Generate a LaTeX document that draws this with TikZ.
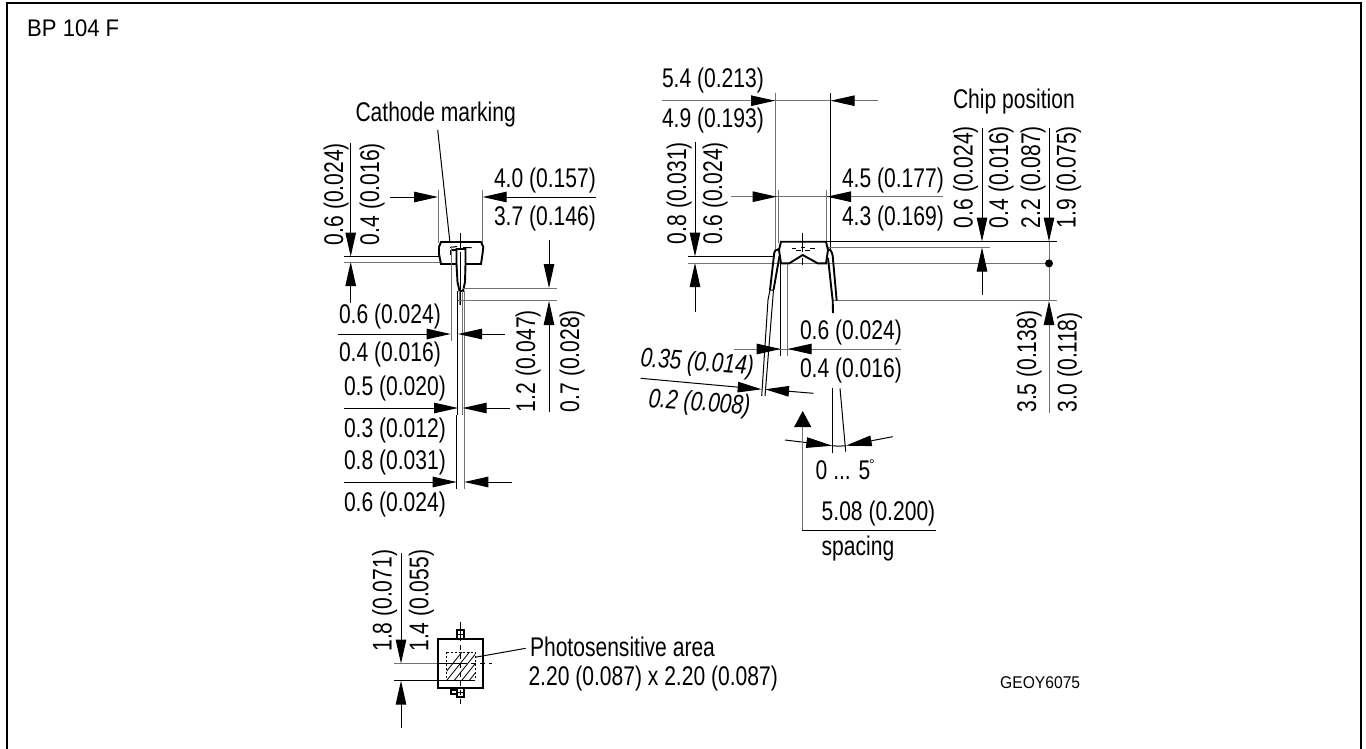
\documentclass[tikz,border=0pt]{standalone}
\usepackage{fontspec}
\setmainfont{Liberation Sans}
\newfontfamily\dimf[FakeStretch=0.78]{Liberation Sans}
\newfontfamily\titlef[FakeStretch=0.92]{Liberation Sans}
\usetikzlibrary{arrows.meta}
\tikzset{
  dimtext/.style={inner sep=0pt,outer sep=0pt,anchor=base west,font=\fontsize{27}{27}\selectfont\dimf},
  vdimtext/.style={dimtext,rotate=90},
  thin line/.style={line width=1pt,black},
  grey line/.style={line width=1pt,black!55},
  outline/.style={line width=1.9pt,black},
  dimarr/.style={thin line,-{Triangle[length=24pt,width=10.5pt]}},
  greyarr/.style={grey line,-{Triangle[length=24pt,width=10.5pt,color=black]}},
}
\begin{document}
\begin{tikzpicture}[x=1pt,y=-1pt,line cap=butt]
\useasboundingbox (0,0) rectangle (1366,749);
\fill[white] (0,0) rectangle (1366,749);
% frame (open below the picture edge)
\draw[line width=1.8pt] (7,752) -- (7,3) -- (1361,3) -- (1361,752);
\node[inner sep=0pt,anchor=base west,font=\fontsize{24}{24}\selectfont\titlef] (title) at (27,36.5) {BP 104 F};
\node[inner sep=0pt,anchor=base west,font=\fontsize{17}{17}\selectfont\titlef] (code) at (1000,688) {GEOY6075};

% ---------- left view ----------
\node[dimtext] (cath) at (355.5,122) {Cathode marking};
\draw[thin line] (437.7,130) -- (450,243);
\node[vdimtext] (l1) at (343,245) {0.6 (0.024)};
\node[vdimtext] (l2) at (379,245) {0.4 (0.016)};
\draw[dimarr] (350.7,143) -- (350.7,256.5);
\draw[dimarr] (350.7,303) -- (350.7,262);
\draw[thin line] (344,256.5) -- (440,256.5);
\draw[grey line] (344,262) -- (440,262);
\node[dimtext] (l3) at (494,188) {4.0 (0.157)};
\node[dimtext] (l4) at (494,225) {3.7 (0.146)};
\draw[grey line] (494,197) -- (596,197);
\draw[dimarr] (390,197) -- (438,197);
\draw[dimarr] (596,197) -- (482.7,197);
\draw[grey line] (438,190) -- (438,243);
\draw[grey line] (482.7,190) -- (482.7,243);
% body
\draw[outline,fill=white] (441,242) -- (481,242) -- (483.3,247) -- (482.5,254) -- (481,264) -- (441,264) -- (439,254) -- (439,247) -- cycle;
\draw[thin line] (460,233) -- (460,305);
\draw[thin line] (450,247.5) -- (457,246.5) (463,247.5) -- (471.5,247.5);
\draw[outline] (451,250) -- (451,255) (451,250) -- (457,250);
\draw[outline,fill=white] (456.5,264) -- (456.5,249) -- (465.5,249) -- (465.5,264) -- (465,282) -- (463,291) -- (459.5,291) -- (457.5,282) -- cycle;
\draw[thin line] (460.5,252) -- (460.5,290);
\draw[grey line] (451,246) -- (451,341);
\draw[thin line] (457.5,291) -- (457.5,415);
\draw[grey line] (462.7,291) -- (462.7,415);
\draw[grey line] (459,291) -- (459,305);
\draw[thin line] (456.7,415) -- (456.7,489);
\draw[grey line] (464.3,291) -- (464.3,489);
\draw[grey line] (463,288) -- (556.7,288);
\draw[grey line] (458,300.7) -- (556.7,300.7);
\draw[dimarr] (549,240) -- (549,288);
\draw[dimarr] (549,411.7) -- (549,301);
\node[vdimtext] (l5) at (535,412) {1.2 (0.047)};
\node[vdimtext] (l6) at (579,412) {0.7 (0.028)};
\node[dimtext] (l7) at (339,323) {0.6 (0.024)};
\node[dimtext] (l8) at (339,361.7) {0.4 (0.016)};
\draw[dimarr] (338,334) -- (450.7,334);
\draw[dimarr] (505,334) -- (458,334);
\node[dimtext] (l9) at (344,395) {0.5 (0.020)};
\node[dimtext] (l10) at (344,437) {0.3 (0.012)};
\draw[dimarr] (344,408) -- (458,408);
\draw[dimarr] (510,408) -- (462.7,408);
\node[dimtext] (l11) at (344,469) {0.8 (0.031)};
\node[dimtext] (l12) at (344,511.7) {0.6 (0.024)};
\draw[dimarr] (344,482) -- (456.7,482);
\draw[dimarr] (512,482) -- (464.3,482);

% ---------- right view ----------
\node[dimtext] (r1) at (662,88) {5.4 (0.213)};
\node[dimtext] (r2) at (662,128) {4.9 (0.193)};
\draw[grey line] (662,100.7) -- (878,100.7);
\draw[greyarr] (662,100.7) -- (775,100.7);
\draw[greyarr] (878,100.7) -- (830.7,100.7);
\draw[grey line] (775,93) -- (775,252);
\draw[thin line] (830.7,93) -- (830.7,250);
\node[dimtext] (r3) at (842,187.7) {4.5 (0.177)};
\node[dimtext] (r4) at (842,225) {4.3 (0.169)};
\draw[grey line] (731,196.7) -- (943,196.7);
\draw[greyarr] (731,196.7) -- (776.7,196.7);
\draw[greyarr] (943,196.7) -- (827,196.7);
\draw[grey line] (778.3,190) -- (778.3,243);
\draw[grey line] (826.7,190) -- (826.7,243);
\node[vdimtext] (r5) at (686,244) {0.8 (0.031)};
\node[vdimtext] (r6) at (722,244) {0.6 (0.024)};
\draw[dimarr] (695,142) -- (695,256.5);
\draw[dimarr] (695,312) -- (695,263);
\draw[thin line] (688,256.5) -- (775,256.5);
\draw[grey line] (688,263.4) -- (1049,263.4);
\draw[thin line] (826,241.5) -- (1056.7,241.5);
\draw[grey line] (826,247.5) -- (990,247.5);
\draw[grey line] (833,300.7) -- (1056.7,300.7);
% body
\draw[outline,fill=white] (781,241.7) -- (826,241.7) -- (828,250) -- (826,263.3) -- (817.7,263.3) -- (802.7,255) -- (789.3,263.3) -- (781,263.3) -- (779,250) -- cycle;
\draw[thin line] (802.7,232.7) -- (802.7,252) (802.7,258) -- (802.7,265);
\draw[thin line] (791.7,248) -- (796,248) (796,250) -- (801,250) (801,247.5) -- (805,247.5) (805,250) -- (810,250) (810,248) -- (815,248);
% leads
\draw[outline] (779,249) .. controls (776,249) and (774,251) .. (774,255) -- (770,290);
\draw[outline] (779.5,256) -- (773.5,290);
\draw[thin line] (770,290) -- (773.5,290) (770,290) -- (768,300) (773.5,290) -- (772.7,300);
\draw[thin line] (768,300) -- (761.7,396) (772.7,300) -- (765,396);
\draw[outline] (828,249) .. controls (830,249) and (832,251) .. (832.7,256) -- (836.7,300.7);
\draw[outline] (828,258) -- (832.7,300.7) -- (833,313);
\draw[thin line] (780.7,264) -- (780.7,356);
\draw[grey line] (787.7,264) -- (787.7,356);
% 0.6/0.4 lead dim
\node[dimtext] (r7) at (800,339.3) {0.6 (0.024)};
\node[dimtext] (r8) at (800,377.7) {0.4 (0.016)};
\draw[grey line] (734.3,349) -- (901,349);
\draw[greyarr] (734.3,349) -- (780.7,349);
\draw[greyarr] (901,349) -- (787.7,349);
% slanted dim
\node[dimtext,rotate=-4.2] (r9) at (640,366.7) {\itshape 0.35 (0.014)};
\node[dimtext,rotate=-4.2] (r10) at (648,407) {\itshape 0.2 (0.008)};
\draw[dimarr] (640.7,378.3) -- (761.7,389.3);
\draw[dimarr] (813.3,393.3) -- (765,389.3);
% angle
\draw[thin line] (832.3,388.3) -- (832.3,452.7);
\draw[thin line] (840,388.3) -- (845.7,451.7);
\draw[thin line,-{Triangle[length=26pt,width=10.5pt]}] (785,440) -- (832.3,445.7);
\draw[thin line,-{Triangle[length=26pt,width=10.5pt]}] (892.7,436.7) -- (845.7,445.7);
\draw[thin line] (832.3,445.7) .. controls (836,446.2) and (841,446.2) .. (845.7,445.7);
\node[dimtext] (r11) at (815.7,479) {0 ... 5};
\node[inner sep=0pt,anchor=base west,font=\fontsize{14}{14}\selectfont] (deg) at (869,469) {\char"00B0};
% spacing
\draw[grey line,-{Triangle[length=16pt,width=17pt,color=black]}] (802.7,530) -- (802.7,411);
\draw[thin line] (802.2,530) -- (936,530);
\node[dimtext] (r12) at (821.7,520.7) {5.08 (0.200)};
\node[dimtext] (r13) at (821.7,555) {spacing};
% chip position
\node[dimtext] (c0) at (953,109) {Chip position};
\node[vdimtext] (c1) at (972.7,228) {0.6 (0.024)};
\node[vdimtext] (c2) at (1008,228) {0.4 (0.016)};
\node[vdimtext] (c3) at (1040,228) {2.2 (0.087)};
\node[vdimtext] (c4) at (1075.7,228) {1.9 (0.075)};
\draw[dimarr] (982,128) -- (982,241.5);
\draw[dimarr] (982,295) -- (982,247.5);
\draw[dimarr] (1049,128) -- (1049,241.5);
\draw[grey line] (1049,241.5) -- (1049,301);
\fill (1049,263.4) circle (4pt);
\draw[greyarr] (1049,413) -- (1049,301);
\node[vdimtext] (c5) at (1036,412.7) {3.5 (0.138)};
\node[vdimtext] (c6) at (1076.7,412.7) {3.0 (0.118)};

% ---------- bottom view ----------
\node[vdimtext] (b1) at (391.7,651.7) {1.8 (0.071)};
\node[vdimtext] (b2) at (428.3,651.7) {1.4 (0.055)};
\draw[grey line] (401,553) -- (401,640);
\draw[dimarr] (401,553) -- (401,663.5);
\draw[dimarr] (401,728) -- (401,680.7);
\begin{scope}
\clip (446.7,652.3) rectangle (475,680);
\foreach \k in {0,...,9} {\draw[line width=.8pt] (430+\k*7.5,692) -- (470+\k*7.5,642);}
\end{scope}
\draw[outline] (437.7,639.3) rectangle (482.7,688.3);
\draw[grey line] (394,663.5) -- (437,663.5);
\draw[thin line] (394,680.7) -- (475,680.7);
\draw[thin line] (437.7,663.5) -- (462,663.5);
\draw[thin line,dash pattern=on 5pt off 4pt] (462,663.5) -- (491.7,663.5);
\draw[thin line,dash pattern=on 2pt off 2pt] (446.7,652.3) -- (475,652.3) -- (475,680);
\draw[thin line,dash pattern=on 2pt off 2pt] (446.7,652.3) -- (446.7,680);
\draw[thin line] (460,621.7) -- (460,636);
\draw[thin line,dash pattern=on 5pt off 4pt] (460,636) -- (460,706.7);
\draw[outline] (456.7,630) rectangle (464.3,639.3);
\draw[thin line] (456.7,634.5) -- (464.3,634.5);
\draw[outline] (456.7,688.3) rectangle (464.3,697.3);
\draw[thin line] (456.7,692.5) -- (464.3,692.5);
\draw[outline] (451,690) rectangle (456.7,693.7);
\draw[thin line] (475,657.3) -- (525.7,648.3);
\node[dimtext] (b3) at (530,656.7) {Photosensitive area};
\node[dimtext] (b4) at (528.5,685.5) {2.20 (0.087) x 2.20 (0.087)};
\end{tikzpicture}
\end{document}
